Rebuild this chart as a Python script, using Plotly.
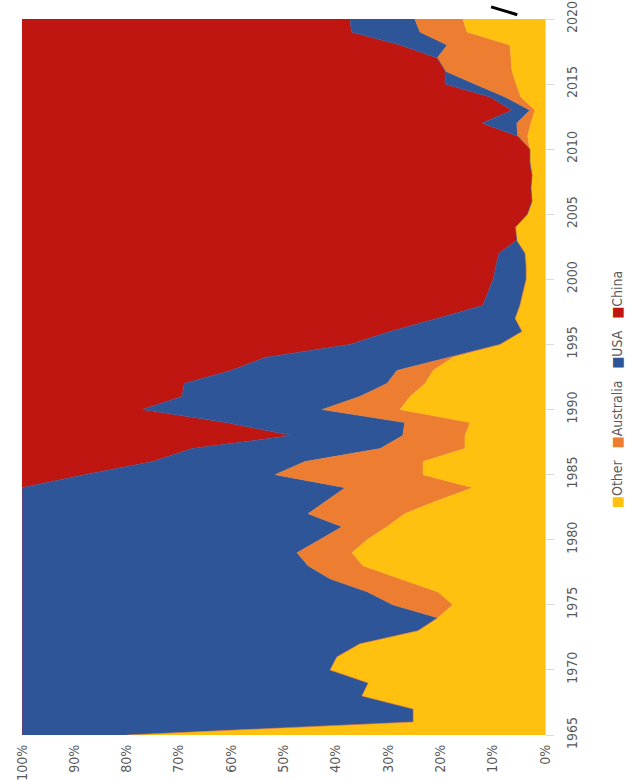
import plotly.graph_objects as go

# Share of the total (%) by year, one list per series
years = list(range(1965, 2021))

other = [80.0, 25.2, 25.2, 35.0, 33.8, 41.1, 39.8, 35.4, 24.3, 20.5,
         17.6, 20.5, 27.7, 34.8, 36.9, 34.0, 30.2, 26.8, 20.6, 13.8,
         23.3, 23.3, 15.3, 15.3, 14.3, 27.7, 25.8, 22.9, 21.4, 17.6,
         8.6, 4.4, 5.7, 4.8, 4.2, 3.6, 3.6, 3.8, 5.4, 5.7,
         3.4, 2.5, 2.7, 2.5, 2.9, 2.9, 3.3, 2.7, 1.9, 4.6,
         5.5, 6.3, 6.5, 6.7, 14.9, 15.7]

australia = [0, 0, 0, 0, 0, 0, 0, 0, 0, 0,
             11.5, 13.5, 13.4, 10.5, 10.5, 9.0, 8.6, 18.5, 21.1, 24.4,
             28.3, 22.6, 16.2, 11.9, 12.5, 14.9, 9.6, 7.3, 6.9, 1.1,
             0, 0, 0, 0, 0, 0, 0, 0, 0, 0,
             0, 0, 0, 0, 0, 0, 1.9, 2.7, 1.0, 3.0,
             7.9, 12.8, 14.1, 12.0, 9.0, 9.2]

usa = [20.0, 74.8, 74.8, 65.0, 66.2, 58.9, 60.2, 64.6, 75.7, 79.5,
       70.9, 66.0, 58.9, 54.7, 52.6, 57.0, 61.2, 54.7, 58.3, 61.8,
       36.4, 29.1, 36.0, 21.2, 34.2, 34.4, 34.0, 38.8, 31.7, 34.8,
       28.7, 25.2, 14.9, 7.1, 6.7, 6.3, 5.8, 5.0, 0, 0,
       0, 0, 0, 0, 0, 0, 0, 6.6, 3.4, 2.9,
       5.7, 0, 0, 9.0, 13.1, 12.4]

china = [0, 0, 0, 0, 0, 0, 0, 0, 0, 0,
         0, 0, 0, 0, 0, 0, 0, 0, 0, 0,
         12.0, 25.0, 32.5, 51.6, 39.0, 23.0, 30.6, 31.0, 40.0, 46.5,
         62.7, 70.4, 79.4, 88.1, 89.1, 90.1, 90.6, 91.2, 94.6, 94.3,
         96.6, 97.5, 97.3, 97.5, 97.1, 97.1, 94.8, 88.0, 93.7, 89.5,
         80.9, 80.9, 79.4, 72.3, 63.0, 62.7]

series = [
    ("Other", other, "#FFC010"),
    ("Australia", australia, "#ED7D31"),
    ("USA", usa, "#2E5597"),
    ("China", china, "#BF1612"),
]

pct_ticks = list(range(0, 101, 10))

TEXT_FONT = "Liberation Sans Narrow, DejaVu Sans Condensed, Arial Narrow, sans-serif"
TEXT_COLOR = "#595959"

fig = go.Figure()
for name, vals, color in series:
    fig.add_trace(go.Scatter(
        x=vals, y=years, name=name,
        mode="lines", orientation="h", stackgroup="share",
        line=dict(width=0.6, color=color),
        fillcolor=color,
        hoverinfo="skip",
    ))

fig.update_layout(
    width=627, height=780,
    margin=dict(l=22, r=82, t=19, b=45, autoexpand=False),
    paper_bgcolor="white", plot_bgcolor="white",
    showlegend=False,
    font=dict(family=TEXT_FONT, size=14, color=TEXT_COLOR),
)

fig.update_xaxes(
    range=[100, 0],
    tickvals=pct_ticks,
    ticktext=[f"{v}%" for v in pct_ticks],
    tickangle=-90,
    showgrid=False, zeroline=False, showline=False,
    ticks="", automargin=False, ticklabelstandoff=6,
)

fig.update_yaxes(
    range=[1965, 2020],
    side="right",
    tick0=1965, dtick=5,
    tickangle=-90,
    ticks="outside", ticklen=8, tickcolor="#d9d9d9",
    showline=True, linecolor="#d9d9d9", linewidth=1,
    showgrid=False, zeroline=False, automargin=False,
    ticklabelstandoff=6,
)

# Legend drawn as rotated text, reading bottom to top
legend_text = "&nbsp;&nbsp;&nbsp;".join(
    f'<span style="color:{c}">■</span>{n}' for n, _, c in series
)
fig.add_annotation(
    text=legend_text, textangle=-90,
    xref="paper", yref="paper",
    x=1.0, xshift=82, y=0.482,
    showarrow=False,
    font=dict(family=TEXT_FONT, size=14, color=TEXT_COLOR),
)

# Short dark stroke above the top-right of the plot
fig.add_shape(
    type="line", xref="paper", yref="paper",
    x0=0.897, y0=1.017, x1=0.947, y1=1.006,
    line=dict(color="black", width=3),
)

fig.write_html("out.html")
